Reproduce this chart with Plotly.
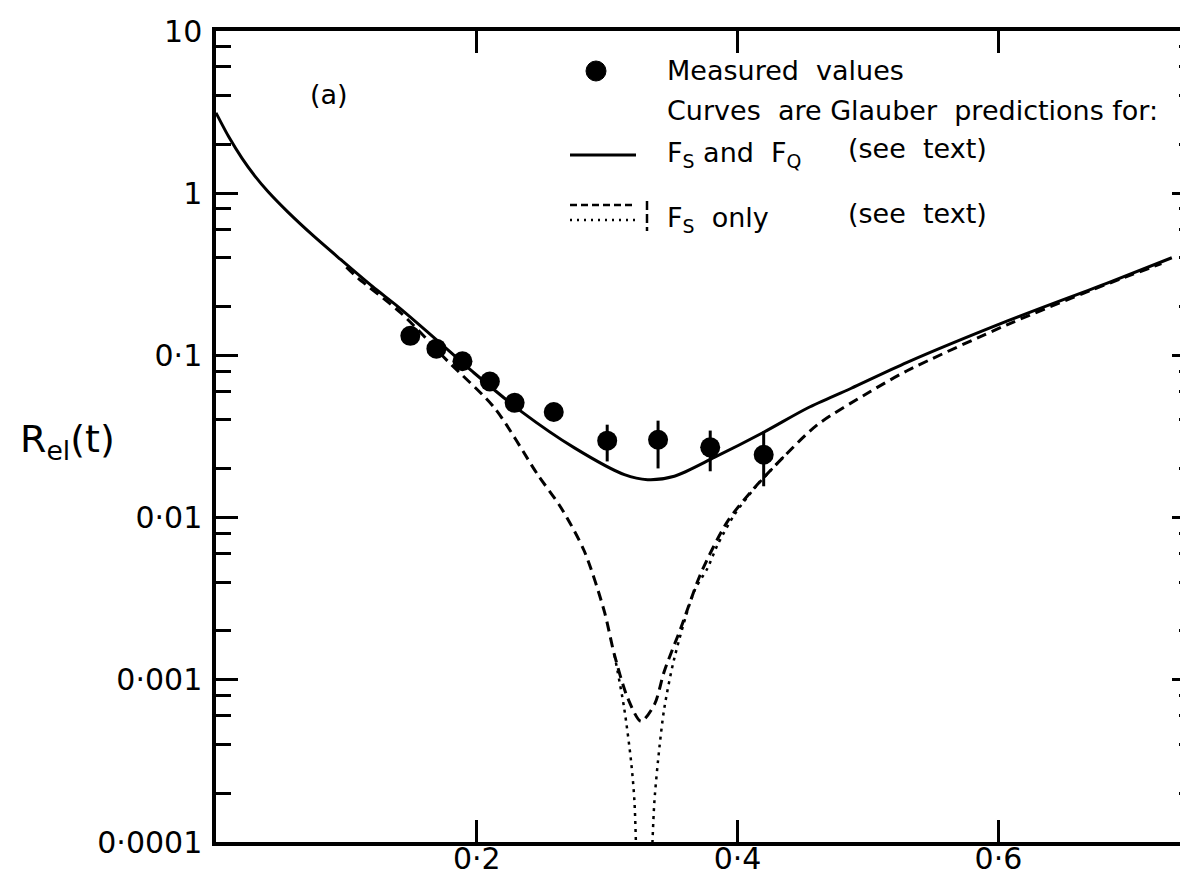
import plotly.graph_objects as go

# ---- Data ----
meas_t = [0.149, 0.169, 0.189, 0.210, 0.229, 0.259, 0.300, 0.339, 0.379, 0.420]
meas_r = [0.132, 0.110, 0.092, 0.069, 0.051, 0.0448, 0.0298, 0.0302, 0.0271, 0.0244]
meas_err_plus = [0, 0, 0, 0, 0, 0, 0.0076, 0.0094, 0.0073, 0.0096]
meas_err_minus = [0, 0, 0, 0, 0, 0, 0.0076, 0.0101, 0.0078, 0.0088]

solid_t = [0.0, 0.01, 0.02, 0.03, 0.04, 0.055, 0.075, 0.0958, 0.12, 0.1395, 0.1676,
           0.198, 0.234, 0.2749, 0.3132, 0.331, 0.3515, 0.3821, 0.42, 0.4537, 0.4868,
           0.53, 0.607, 0.6835, 0.733]
solid_r = [3.13, 2.21, 1.64, 1.27, 1.02, 0.767, 0.543, 0.389, 0.266, 0.200, 0.128,
           0.0779, 0.0452, 0.0269, 0.0184, 0.01714, 0.0180, 0.0235, 0.0336, 0.0474, 0.0625,
           0.0905, 0.163, 0.279, 0.40]

dashed_t = [0.10, 0.1088, 0.142, 0.1778, 0.2136, 0.2467, 0.2646, 0.2825, 0.2978, 0.3055,
            0.3157, 0.3259, 0.3362, 0.3438, 0.3566, 0.3719, 0.3923, 0.4128, 0.4358, 0.4613,
            0.5021, 0.530, 0.607, 0.6705, 0.696, 0.725]
dashed_r = [0.35, 0.300, 0.182, 0.092, 0.0474, 0.0184, 0.0115, 0.0062, 0.00264, 0.00143,
            0.000773, 0.000555, 0.000703, 0.00113, 0.0021, 0.00455, 0.00948, 0.01522, 0.0239, 0.0374,
            0.0601, 0.0804, 0.155, 0.251, 0.301, 0.368]

dotted_t = [0.3055, 0.313, 0.3183, 0.3209, 0.3225, None,
            0.334, 0.3362, 0.340, 0.3438, 0.3515, 0.3668, 0.377, 0.3847, 0.3975, 0.4153, 0.4358]
dotted_r = [0.00143, 0.00067, 0.000315, 0.000178, 0.00007, None,
            0.00007, 0.000178, 0.00038, 0.00067, 0.00136, 0.00352, 0.00489, 0.0068, 0.0104, 0.01596, 0.0239]

x_tickvals = [0.2, 0.4, 0.6]
x_ticktext = ["0·2", "0·4", "0·6"]
y_tickvals = [1e-4, 1e-3, 1e-2, 1e-1, 1, 10]
y_ticktext = ["0·0001", "0·001", "0·01", "0·1", "1", "10"]
y_minor = [m * 10.0 ** e for e in range(-4, 1) for m in (2, 4, 6, 8)]

FONT = "DejaVu Sans"

fig = go.Figure()

fig.add_trace(go.Scatter(x=solid_t, y=solid_r, mode="lines",
                         line=dict(color="black", width=3, shape="spline", smoothing=0.8),
                         showlegend=False, hoverinfo="skip"))
fig.add_trace(go.Scatter(x=dashed_t, y=dashed_r, mode="lines",
                         line=dict(color="black", width=3, dash="10px,6px", shape="spline", smoothing=0.8),
                         showlegend=False, hoverinfo="skip"))
fig.add_trace(go.Scatter(x=dotted_t, y=dotted_r, mode="lines", connectgaps=False,
                         line=dict(color="black", width=2.5, dash="3px,5px", shape="spline", smoothing=0.8),
                         showlegend=False, hoverinfo="skip"))
fig.add_trace(go.Scatter(x=meas_t, y=meas_r, mode="markers",
                         marker=dict(color="black", size=20, symbol="circle"),
                         error_y=dict(type="data", array=meas_err_plus, arrayminus=meas_err_minus,
                                      color="black", thickness=3, width=0),
                         showlegend=False))

# axis geometry in pixels
L, R, T, B = 208, 2, 23, 43
W, H = 1188, 877
pw, ph = W - L - R, H - T - B

def px(xp):
    return (xp - L) / pw

def py(yp):
    return (H - B - yp) / ph

fig.update_layout(
    width=W, height=H,
    margin=dict(l=L, r=R, t=T, b=B, autoexpand=False),
    paper_bgcolor="white", plot_bgcolor="white",
    font=dict(family=FONT, color="black"),
    showlegend=False,
)

fig.update_xaxes(
    range=[0, 0.75], showgrid=False, zeroline=False, automargin=False,
    showline=True, linecolor="black", linewidth=3.5, mirror="ticks",
    ticks="inside", ticklen=22, tickwidth=3, tickcolor="black",
    tickmode="array", tickvals=x_tickvals, ticktext=x_ticktext,
    tickfont=dict(family=FONT, size=30, color="black"),
    ticklabelstandoff=-13,
)
fig.update_yaxes(
    type="log", range=[-4, 1], showgrid=False, zeroline=False, automargin=False,
    showline=True, linecolor="black", linewidth=3.5, mirror="ticks",
    ticks="inside", ticklen=22, tickwidth=3, tickcolor="black",
    tickmode="array", tickvals=y_tickvals, ticktext=y_ticktext,
    tickfont=dict(family=FONT, size=30, color="black"),
    ticklabelstandoff=4,
    minor=dict(tickmode="array", tickvals=y_minor, ticks="inside", ticklen=15,
               tickwidth=3, tickcolor="black", showgrid=False),
)

ann = []
def text(x, y, s, size=27, xanchor="left", yanchor="middle"):
    ann.append(dict(x=x, y=y, xref="paper", yref="paper", text=s, showarrow=False,
                    xanchor=xanchor, yanchor=yanchor,
                    font=dict(family=FONT, size=size, color="black")))

text(px(657), py(63), "Measured  values")
text(px(657), py(102), "Curves  are Glauber  predictions for:")
text(px(657), py(146), "F<sub>S</sub> and  F<sub>Q</sub>")
text(px(838), py(140), "(see  text)")
text(px(657), py(211), "F<sub>S</sub>  only")
text(px(838), py(205), "(see  text)")
text(px(300), py(87), "(a)")
text(px(10), py(433), "R<sub>el</sub>(t)", size=38)
text(px(187), py(862), "10", size=32, xanchor="center", yanchor="top")
fig.update_layout(annotations=ann)

shapes = [
    dict(type="circle", xref="paper", yref="paper",
         x0=px(578), x1=px(598), y0=py(73), y1=py(53),
         fillcolor="black", line=dict(color="black", width=1)),
    dict(type="line", xref="paper", yref="paper", x0=px(562), x1=px(628), y0=py(147), y1=py(147),
         line=dict(color="black", width=3)),
    dict(type="line", xref="paper", yref="paper", x0=px(562), x1=px(628), y0=py(197), y1=py(197),
         line=dict(color="black", width=2.5, dash="7px,4px")),
    dict(type="line", xref="paper", yref="paper", x0=px(562), x1=px(628), y0=py(212), y1=py(212),
         line=dict(color="black", width=2.5, dash="2px,5px")),
    dict(type="line", xref="paper", yref="paper", x0=px(639), x1=px(639), y0=py(193), y1=py(223),
         line=dict(color="black", width=2.5, dash="9px,4px")),
]
fig.update_layout(shapes=shapes)

fig.write_html("out.html")
